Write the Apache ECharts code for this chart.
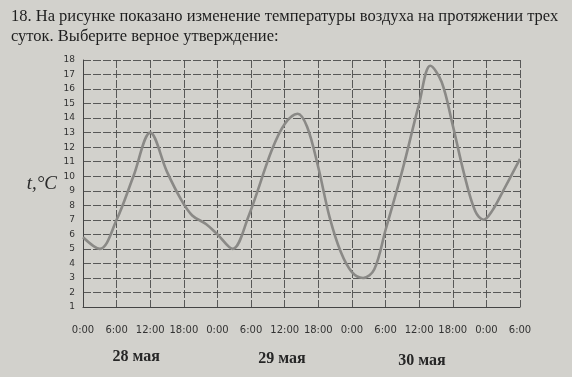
<!DOCTYPE html>
<html>
<head>
<meta charset="utf-8">
<script src="https://cdn.jsdelivr.net/npm/echarts@6/dist/echarts.min.js"></script>
<style>
  html, body { margin: 0; padding: 0; background: #d2d1cc; }
  #chart { width: 572px; height: 377px; }
</style>
</head>
<body>
<div id="chart"></div>
<script>
// часы от 0:00 28 мая
const hours = [0, 3, 6, 9, 12, 15, 17.5, 19.5, 22, 24, 26.7, 29.5, 33.7, 36, 38.3, 40, 42, 44, 46, 48, 50, 52, 54, 57, 60, 62, 64, 66, 68, 70, 71.5, 73, 75, 78]
// температура, °C
const temps = [5.8, 5.0, 7.0, 10.0, 13.0, 10.3, 8.4, 7.3, 6.7, 6.0, 5.0, 7.2, 11.8, 13.6, 14.3, 13.4, 10.6, 7.2, 4.8, 3.4, 3.0, 3.6, 6.3, 10.4, 15.0, 17.6, 16.5, 13.5, 10.2, 7.6, 7.0, 7.6, 9.0, 11.2]
const timeLabels = ['0:00', '6:00', '12:00', '18:00', '0:00', '6:00', '12:00', '18:00', '0:00', '6:00', '12:00', '18:00', '0:00', '6:00']
const days = ['28 мая', '29 мая', '30 мая']
const dayPos = [9.5, 35.5, 60.5]

const chart = echarts.init(document.getElementById('chart'))

const serif = '"Liberation Serif", "DejaVu Serif", serif'

chart.setOption({
  backgroundColor: '#d2d1cc',
  animation: false,
  title: {
    text: '18. На рисунке показано изменение температуры воздуха на протяжении трех\nсуток. Выберите верное утверждение:',
    left: 6,
    top: 2,
    textStyle: {
      fontFamily: serif,
      fontSize: 16.5,
      fontWeight: 'normal',
      color: '#1e1e1e',
      lineHeight: 20
    }
  },
  grid: { left: 83, right: 52, top: 60, bottom: 70 },
  xAxis: {
    type: 'value',
    min: 0,
    max: 78,
    interval: 6,
    axisLine: { show: true, lineStyle: { color: '#444', width: 1 } },
    axisTick: { show: false },
    splitLine: { show: true, lineStyle: { color: '#4a4a4a', width: 0.9, type: [8, 2] } },
    axisLabel: {
      margin: 18,
      fontSize: 10,
      color: '#333',
      fontFamily: '"DejaVu Sans", sans-serif',
      formatter: v => timeLabels[Math.round(v / 6)]
    }
  },
  yAxis: {
    type: 'value',
    min: 1,
    max: 18,
    interval: 1,
    name: 't,°C',
    nameLocation: 'middle',
    nameRotate: 0,
    nameGap: 26,
    nameTextStyle: {
      fontFamily: serif,
      fontStyle: 'italic',
      fontSize: 19,
      color: '#2a2a2a',
      padding: [14, 0, 0, 0]
    },
    axisLine: { show: true, lineStyle: { color: '#444', width: 1 } },
    axisTick: { show: false },
    splitLine: { show: true, lineStyle: { color: '#4a4a4a', width: 0.9, type: [8, 2] } },
    axisLabel: {
      margin: 8,
      fontSize: 9,
      color: '#333',
      fontFamily: '"DejaVu Sans", sans-serif'
    }
  },
  series: [{
    type: 'line',
    data: hours.map((h, i) => [h, temps[i]]),
    smooth: 0.35,
    showSymbol: false,
    lineStyle: { color: '#8a8986', width: 2.6 }
  }]
})

chart.setOption({
  graphic: days.map((d, i) => ({
    type: 'text',
    x: chart.convertToPixel({ xAxisIndex: 0 }, dayPos[i]),
    y: 357 + i * 2,
    style: {
      text: d,
      fontFamily: serif,
      fontSize: 16,
      fontWeight: 'bold',
      fill: '#262626',
      align: 'center',
      verticalAlign: 'middle'
    }
  }))
})
</script>
</body>
</html>
